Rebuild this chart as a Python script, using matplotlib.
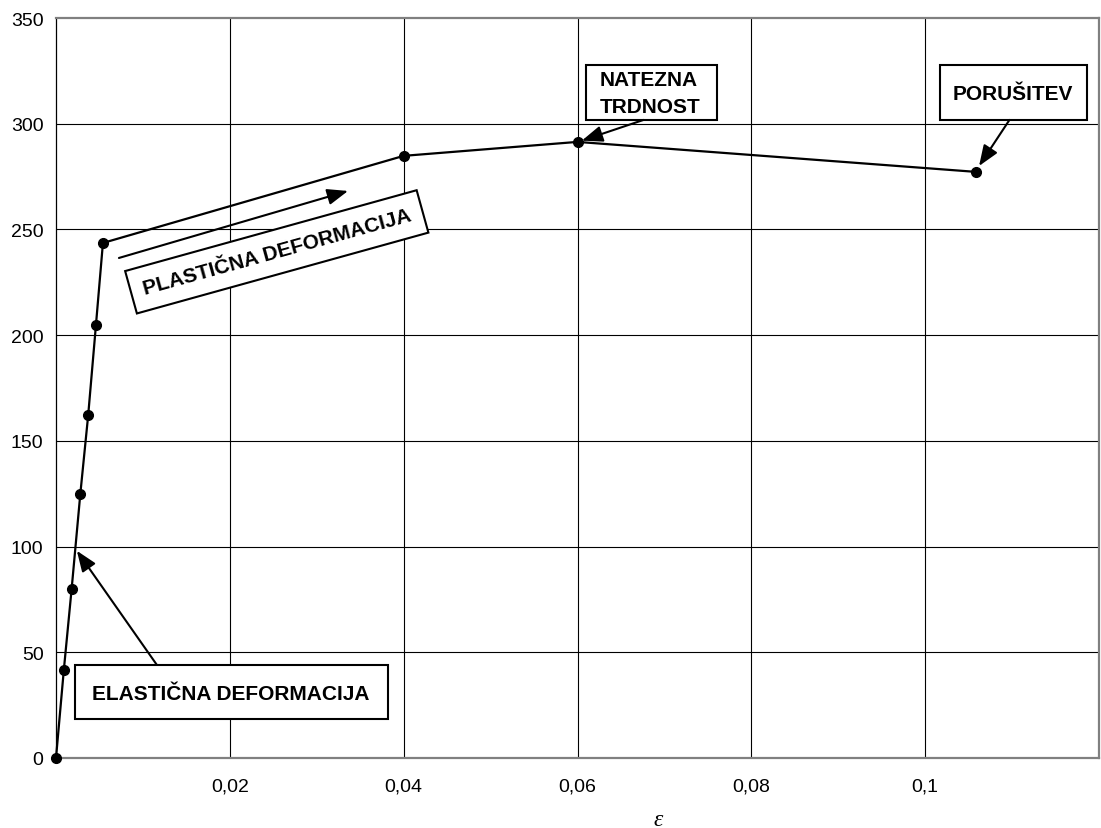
import matplotlib
matplotlib.use("Agg")
import matplotlib.pyplot as plt
from matplotlib.patches import Rectangle

# ---- data ----
strain = [0.0, 0.0009, 0.0018, 0.0028, 0.0037, 0.0046, 0.0054, 0.040, 0.060, 0.1059]
stress = [0.0, 41.6, 80.0, 125.0, 162.0, 205.0, 243.6, 284.8, 291.4, 277.2]
x_ticks = [0.02, 0.04, 0.06, 0.08, 0.1]
x_tick_labels = ["0,02", "0,04", "0,06", "0,08", "0,1"]
y_ticks = [0, 50, 100, 150, 200, 250, 300, 350]
y_tick_labels = ["0", "50", "100", "150", "200", "250", "300", "350"]
x_label = "ε"
lbl_elastic = "ELASTIČNA DEFORMACIJA"
lbl_plastic = "PLASTIČNA DEFORMACIJA"
lbl_tensile = ["NATEZNA", "TRDNOST"]
lbl_fail = "PORUŠITEV"

plt.rcParams['font.family'] = ['Liberation Sans', 'DejaVu Sans']

W, H = 1101, 829
fig = plt.figure(figsize=(W / 100, H / 100), dpi=100)
ax = fig.add_axes([56 / W, (H - 759) / H, (1099 - 56) / W, (759 - 19) / H])
ax.set_xlim(0, 0.12)
ax.set_ylim(0, 350)

# grid
for xv in x_ticks:
    ax.axvline(xv, color='black', lw=0.8, zorder=1)
for yv in y_ticks[1:-1]:
    ax.axhline(yv, color='black', lw=0.8, zorder=1)

for side in ['top', 'bottom', 'right']:
    ax.spines[side].set_color('#808080')
    ax.spines[side].set_linewidth(1.6)
ax.spines['left'].set_color('black')
ax.spines['left'].set_linewidth(0.9)

ax.set_xticks(x_ticks)
ax.set_xticklabels(x_tick_labels, fontsize=14)
ax.set_yticks(y_ticks)
ax.set_yticklabels(y_tick_labels, fontsize=14)
ax.tick_params(axis='x', length=0, pad=14)
ax.tick_params(axis='y', length=0, pad=9)

ax.set_xlabel(x_label, fontsize=17, style='italic', family=['Liberation Serif', 'DejaVu Serif'])
ax.xaxis.set_label_coords((658 - 56) / 1043, (759 - 810) / 740)

# curve
ax.plot(strain, stress, color='black', lw=1.6, marker='o', markersize=7, zorder=4, clip_on=False)

arrow_kw = dict(arrowstyle='-|>,head_length=0.9,head_width=0.35', color='black', lw=1.5,
                shrinkA=0, shrinkB=0, mutation_scale=14)

# elastic annotation
ax.add_patch(Rectangle((0.00218, 18.45), 0.03598, 25.55, facecolor='white',
                       edgecolor='black', lw=1.5, zorder=5))
ax.text(0.0201, 27.9, lbl_elastic, ha='center', va='baseline', fontsize=15,
        fontweight='bold', zorder=6)
ax.annotate('', xy=(0.0024, 98), xytext=(0.01161, 44.0), arrowprops=arrow_kw, zorder=6)

# tensile strength annotation
ax.add_patch(Rectangle((0.06103, 301.8), 0.01506, 26.0, facecolor='white',
                       edgecolor='black', lw=1.5, zorder=5))
ax.text(0.06253, 318.3, lbl_tensile[0], ha='left', va='baseline', fontsize=15,
        fontweight='bold', zorder=6)
ax.text(0.06253, 305.5, lbl_tensile[1], ha='left', va='baseline', fontsize=15,
        fontweight='bold', zorder=6)
ax.annotate('', xy=(0.0605, 292), xytext=(0.0676, 301.8), arrowprops=arrow_kw, zorder=6)

# failure annotation
ax.add_patch(Rectangle((0.10172, 301.8), 0.0169, 26.0, facecolor='white',
                       edgecolor='black', lw=1.5, zorder=5))
ax.text(0.11006, 311.7, lbl_fail, ha='center', va='baseline', fontsize=15,
        fontweight='bold', zorder=6)
ax.annotate('', xy=(0.1062, 280), xytext=(0.1097, 301.8), arrowprops=arrow_kw, zorder=6)

# plastic annotation
ax.annotate('', xy=(0.0336, 268.2), xytext=(0.00724, 236.5), arrowprops=arrow_kw, zorder=6)
ax.text(0.0254, 239.4, lbl_plastic, ha='center', va='center', fontsize=15,
        fontweight='bold', rotation=15.5, rotation_mode='anchor', zorder=6,
        bbox=dict(boxstyle='square,pad=0.6', facecolor='white', edgecolor='black', lw=1.5))

fig.savefig('out.png', dpi=100)
